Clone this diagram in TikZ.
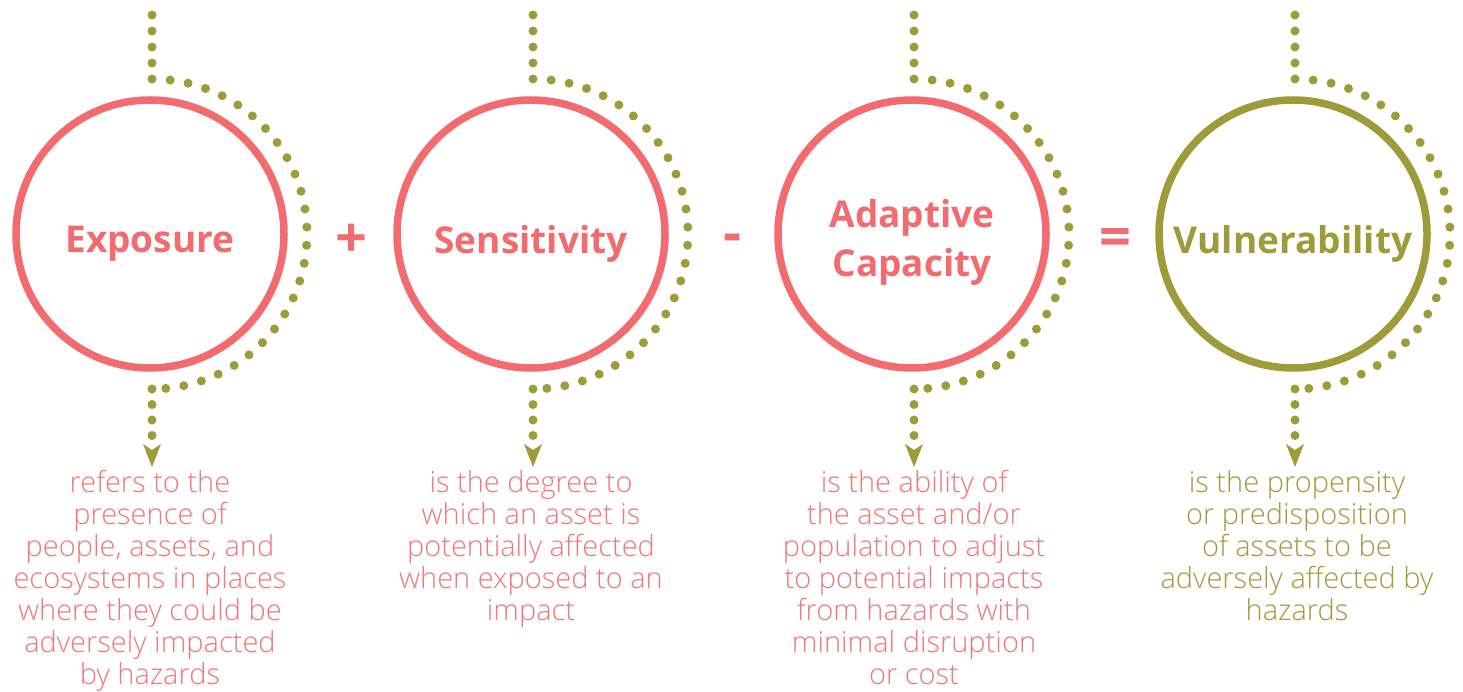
\documentclass[tikz,border=0pt]{standalone}
\usepackage{fontspec}
\usetikzlibrary{arrows.meta}
\setmainfont{Open Sans}
\newfontfamily\titlefont{Open Sans}[UprightFont=*-Bold]
\newfontfamily\bodyfont{Open Sans Light}
\definecolor{coral}{RGB}{242,108,111}
\definecolor{coraltext}{RGB}{242,118,120}
\definecolor{olive}{RGB}{158,155,57}
\tikzset{
  ring/.style={circle, draw=#1, line width=7.5pt, minimum size=268pt, inner sep=0pt},
  titletext/.style={text=#1, font=\titlefont\fontsize{37}{49}\selectfont, align=center},
  desc/.style={text=#1, font=\bodyfont\fontsize{29}{32}\selectfont, align=center, anchor=north},
  dots/.style={draw=olive, line width=9pt, line cap=round, dash pattern=on 0pt off #1},
  flowtip/.style={draw=olive, line width=9pt, line cap=round, dash pattern=on 0pt off 15.5pt,
    -{Stealth[length=23pt, width=18pt, inset=6pt, line width=0pt]}},
  opsign/.style={text=coral, font=\titlefont\fontsize{56}{56}\selectfont},
}
\begin{document}
\begin{tikzpicture}[x=1pt, y=-1pt]
\useasboundingbox (0,0) rectangle (1463,692);

% circles
\node[ring=coral] (exp) at (150,234) {};
\node[ring=coral] (sen) at (531,234) {};
\node[ring=coral] (ada) at (912,234) {};
\node[ring=olive] (vul) at (1293,234) {};

% titles
\node[titletext=coral] (expt) at (150,244) {Exposure};
\node[titletext=coral] (sent) at (531,244) {Sensitivity};
\node[titletext=coral] (adat) at (912,242) {Adaptive\\Capacity};
\node[titletext=olive] (vult) at (1293,244) {Vulnerability};

% operators
\node[opsign] (plus) at (351,241) {+};
\node[opsign] (minus) at (732,243) {-};
\node[opsign] (equal) at (1115,243) {=};

% dotted flows: down, around the right side of each circle, down to the description
\foreach \n/\cx in {exp/150, sen/531, ada/912, vul/1293}{
  \coordinate (\n-top) at (\cx+2,15);
  \coordinate (\n-arcin) at (\cx+2,79);
  \coordinate (\n-arcout) at (\cx+2,389);
  \coordinate (\n-tip) at (\cx+2,467);
  \draw[dots=16pt] (\n-top) -- (\n-arcin);
  \draw[dots=18.2pt] (\n-arcin) arc[start angle=-90, end angle=90, radius=155];
  \draw[flowtip] (\n-arcout) -- (\n-tip);
}

% descriptions
\node[desc=coraltext] (expd) at (150,467) {refers to the\\presence of\\people, assets, and\\ecosystems in places\\where they could be\\adversely impacted\\by hazards};
\node[desc=coraltext] (send) at (531,467) {is the degree to\\which an asset is\\potentially affected\\when exposed to an\\impact};
\node[desc=coraltext] (adad) at (914,467) {is the ability of\\the asset and/or\\population to adjust\\to potential impacts\\from hazards with\\minimal disruption\\or cost};
\node[desc=olive] (vuld) at (1297,467) {is the propensity\\or predisposition\\of assets to be\\adversely affected by\\hazards};
\end{tikzpicture}
\end{document}
